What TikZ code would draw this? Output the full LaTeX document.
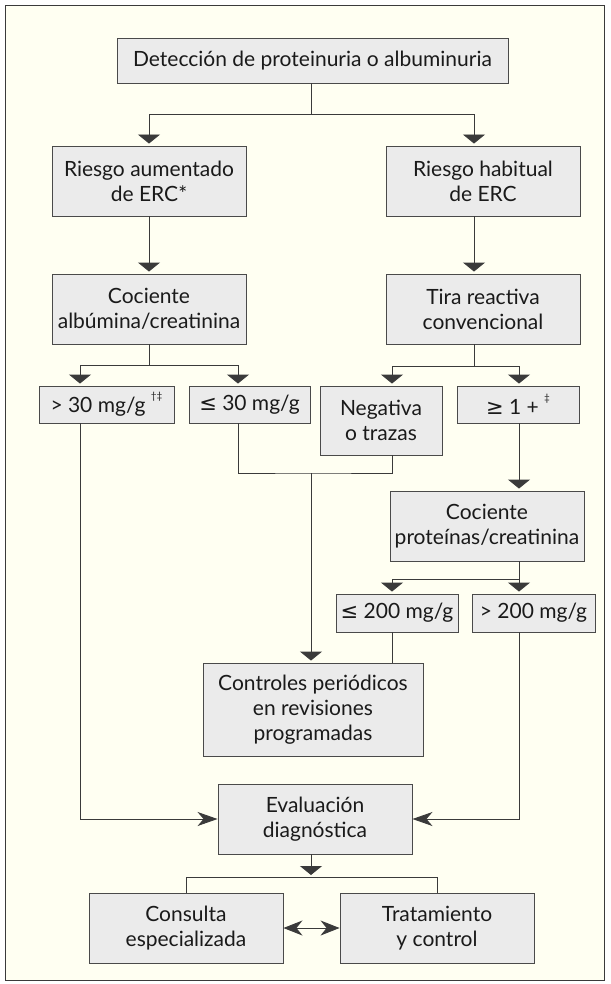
\documentclass[tikz,border=0pt]{standalone}
\usepackage{fontspec}
\setmainfont{Lato}
\newfontfamily\simbolo{DejaVu Sans}
\usetikzlibrary{arrows.meta,calc}
\definecolor{fondo}{HTML}{FFFFF2}
\definecolor{gris}{HTML}{EBEBEB}
\definecolor{borde}{HTML}{4A4A4A}
\definecolor{linea}{HTML}{3A3A3A}
\definecolor{texto}{HTML}{1A1A1A}
\newcommand\marca[1]{\raisebox{0.6em}{\fontsize{10}{10}\selectfont #1}}

\begin{document}
\begin{tikzpicture}[x=1pt,y=-1pt,
		caja/.style 2 args={draw=borde,fill=gris,line width=0.9pt,text=texto,align=center,inner sep=0pt,
			minimum width=#1,minimum height=#2,font=\fontsize{21}{25}\selectfont},
		conector/.style={draw=linea,line width=0.9pt},
		baja/.style={conector,-{Triangle[length=9pt,width=22pt]},shorten >=2pt},
		entra/.style={conector,-{Stealth[length=20pt,width=14pt,inset=6pt]}},
		doble/.style={conector,{Stealth[length=19pt,width=15pt,inset=6pt]}-{Stealth[length=19pt,width=15pt,inset=6pt]}}]
		\useasboundingbox (0,0) rectangle (610,984);
		% marco exterior
		\draw[draw=linea,line width=1.2pt,fill=fondo] (5.5,5.5) rectangle (604.5,980.5);
		% ejes de las lineas verticales
		\coordinate (colA) at (80,0);
		\coordinate (colB) at (149,0);
		\coordinate (colC) at (238,0);
		\coordinate (colD) at (311,0);
		\coordinate (colE) at (392,0);
		\coordinate (colF) at (474,0);
		\coordinate (colG) at (519,0);
		% cajas
		\node[caja={391pt}{45pt}] (deteccion) at (312.5,60.5) {Detección de proteinuria o albuminuria};
		\node[caja={194pt}{70pt}] (aumentado) at (149,181) {Riesgo aumentado\\de ERC*};
		\node[caja={194pt}{70pt}] (habitual) at (483,181) {Riesgo habitual\\de ERC};
		\node[caja={194pt}{70pt}] (cocalb) at (149,309) {Cociente\\albúmina/creatinina};
		\node[caja={194pt}{70pt}] (tira) at (483,309) {Tira reactiva\\convencional};
		\node[caja={135pt}{37pt}] (mayor30) at (106.5,404.5) {> 30 mg/g \marca{†‡}};
		\node[caja={121pt}{37pt}] (menor30) at (249.5,404.5) {{\simbolo ≤} 30 mg/g};
		\node[caja={122pt}{69pt}] (negativa) at (381,420.5) {Negativa\\o trazas};
		\node[caja={122pt}{37pt}] (mayor1) at (518,404.5) {{\simbolo ≥} 1 + \marca{‡}};
		\node[caja={194pt}{70pt}] (cocprot) at (487,526) {Cociente\\proteínas/creatinina};
		\node[caja={122pt}{38pt}] (menor200) at (397,613) {{\simbolo ≤} 200 mg/g};
		\node[caja={123pt}{38pt}] (mayor200) at (533.5,613) {> 200 mg/g};
		\node[caja={220pt}{93pt}] (controles) at (313,709.5) {Controles periódicos\\en revisiones\\programadas};
		\node[caja={194pt}{70pt}] (evaluacion) at (315,819) {Evaluación\\diagnóstica};
		\node[caja={194pt}{70pt}] (consulta) at (186,928) {Consulta\\especializada};
		\node[caja={194pt}{70pt}] (tratamiento) at (437,928) {Tratamiento\\y control};
		% primera division
		\coordinate (r1) at (311,114);
		\draw[conector] (deteccion.south -| r1) -- (r1);
		\draw[baja] (r1) -| (aumentado.north);
		\draw[baja] (r1) -| (habitual.north -| colF);
		\draw[baja] (aumentado.south) -- (cocalb.north);
		\draw[baja] (habitual.south -| colF) -- (tira.north -| colF);
		% albumina/creatinina
		\coordinate (r2) at (149,365);
		\draw[conector] (cocalb.south) -- (r2);
		\draw[baja] (r2) -| (mayor30.north -| colA);
		\draw[baja] (r2) -| (menor30.north -| colC);
		% tira reactiva
		\coordinate (r3) at (474,366);
		\draw[conector] (tira.south -| colF) -- (r3);
		\draw[baja] (r3) -| (negativa.north -| colE);
		\draw[baja] (r3) -| (mayor1.north -| colG);
		\draw[baja] (mayor1.south -| colG) -- (cocprot.north -| colG);
		% proteinas/creatinina
		\coordinate (r4) at (519,579);
		\draw[conector] (cocprot.south -| colG) -- (r4);
		\draw[baja] (r4) -| (menor200.north -| colE);
		\draw[baja] (r4) -- (mayor200.north -| colG);
		% hacia controles periodicos
		\coordinate (r5) at (311,473);
		\draw[conector] (menor30.south -| colC) |- (r5) -| (negativa.south -| colE);
		\draw[baja] (r5) -- (controles.north -| colD);
		\draw[conector] (menor200.south -| colE) -- (controles.north -| colE);
		% hacia evaluacion
		\draw[entra] (mayor30.south -| colA) |- (evaluacion.west);
		\draw[entra] (mayor200.south -| colG) |- (evaluacion.east);
		\coordinate (r6) at (311,877);
		\draw[baja] (evaluacion.south -| colD) -- (r6);
		\draw[conector] (consulta.north) |- (r6) -| (tratamiento.north);
		\draw[doble] (consulta.east) -- (tratamiento.west);
	\end{tikzpicture}
\end{document}
